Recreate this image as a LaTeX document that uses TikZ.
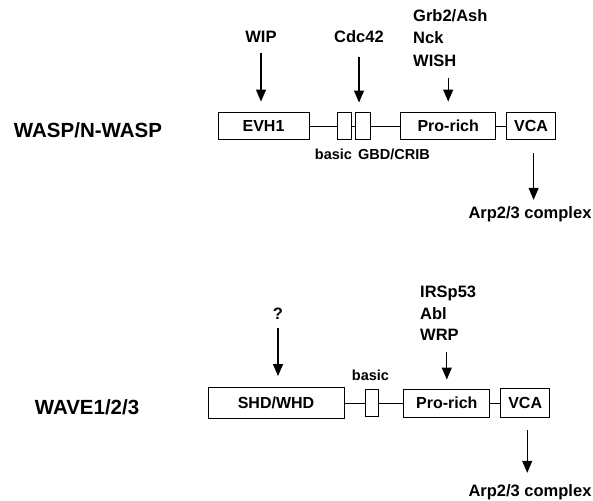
\documentclass[tikz,border=0pt]{standalone}
\usepackage{fontspec}
\setmainfont{Liberation Sans}
\usetikzlibrary{arrows.meta,positioning}

\begin{document}
\begin{tikzpicture}[
  x=1pt, y=-1pt,
  dom/.style={draw, line width=0.9pt, minimum height=27pt, inner sep=0pt, font=\bfseries\fontsize{16}{18}\selectfont},
  lab/.style={inner sep=0pt, anchor=base, font=\bfseries\fontsize{16.5}{20}\selectfont},
  stack/.style={inner sep=0pt, anchor=north west, align=left},
  small/.style={inner sep=0pt, anchor=base, font=\bfseries\fontsize{14.5}{16}\selectfont},
  title/.style={inner sep=0pt, anchor=base, font=\bfseries\fontsize{20.5}{24}\selectfont},
  arr/.style={-{Triangle[length=12pt,width=10pt]}, line width=1.2pt, shorten <=11pt, shorten >=10pt},
  link/.style={line width=0.9pt}
]
\useasboundingbox (0,0) rectangle (593,500);

% WASP / N-WASP
\node[title] (wasp) at (88,137.5) {WASP/N-WASP};
\node[dom, minimum width=91pt] (evh) at (263.5,126) {EVH1};
\node[dom, minimum width=14pt, right=28pt of evh] (basic) {};
\node[dom, minimum width=15pt, right=3pt of basic] (gbd) {};
\node[dom, minimum width=95pt, right=29pt of gbd] (pro) {Pro-rich};
\node[dom, minimum width=49pt, right=10pt of pro] (vca) {VCA};
\draw[link] (evh) -- (basic);
\draw[link] (basic) -- (gbd);
\draw[link] (gbd) -- (pro);
\draw[link] (pro) -- (vca);
\node[small] (basiclab) at (333.5,159) {basic};
\node[small] (gbdlab) at (394,159) {GBD/CRIB};

\node[lab] (wip) at (261,43) {WIP};
\node[lab] (cdc) at (359,43) {Cdc42};
\node[stack, font=\bfseries\fontsize{16.5}{22.5}\selectfont] (grb) at (413,9) {Grb2/Ash\\Nck\\WISH};
\node[lab] (arpa) at (530,218) {Arp2/3 complex};
\draw[arr, shorten <=10pt, shorten >=10.5pt] (wip.south) -- (wip.south |- evh.north);
\draw[arr, shorten <=14pt, shorten >=9.5pt] (cdc.south) -- (cdc.south |- gbd.north);
\draw[arr, shorten >=10.5pt] (pro.north |- grb.south) -- (pro.north);
\draw[arr, shorten <=13.5pt, shorten >=6pt] ([xshift=2.5pt]vca.south) -- ([xshift=2.5pt]vca.south |- arpa.north);

% WAVE1/2/3
\node[title] (wave) at (87,414.5) {WAVE1/2/3};
\node[dom, minimum width=136pt, minimum height=31pt] (shd) at (276,403) {SHD/WHD};
\node[dom, minimum width=13pt, minimum height=27pt, right=21pt of shd] (bbas) {};
\node[dom, minimum width=86pt, minimum height=28pt, right=24pt of bbas] (prob) {Pro-rich};
\node[dom, minimum width=49pt, minimum height=29pt, right=10pt of prob] (vcab) {VCA};
\draw[link] (shd) -- (bbas);
\draw[link] (bbas) -- (prob);
\draw[link] (prob) -- (vcab);
\node[small] (bbaslab) at (370.5,380) {basic};

\node[lab] (quest) at (278,319) {?};
\node[stack, font=\bfseries\fontsize{16.5}{21.5}\selectfont] (irs) at (420,286) {IRSp53\\Abl\\WRP};
\node[lab] (arpb) at (530,496) {Arp2/3 complex};
\draw[arr, shorten <=9pt, shorten >=11pt] (quest.south) -- (quest.south |- shd.north);
\draw[arr, line width=0.9pt, shorten >=9pt] (prob.north |- irs.south) -- (prob.north);
\draw[arr, line width=0.9pt, shorten <=12.5pt, shorten >=11pt] ([xshift=2pt]vcab.south) -- ([xshift=2pt]vcab.south |- arpb.north);
\end{tikzpicture}
\end{document}
